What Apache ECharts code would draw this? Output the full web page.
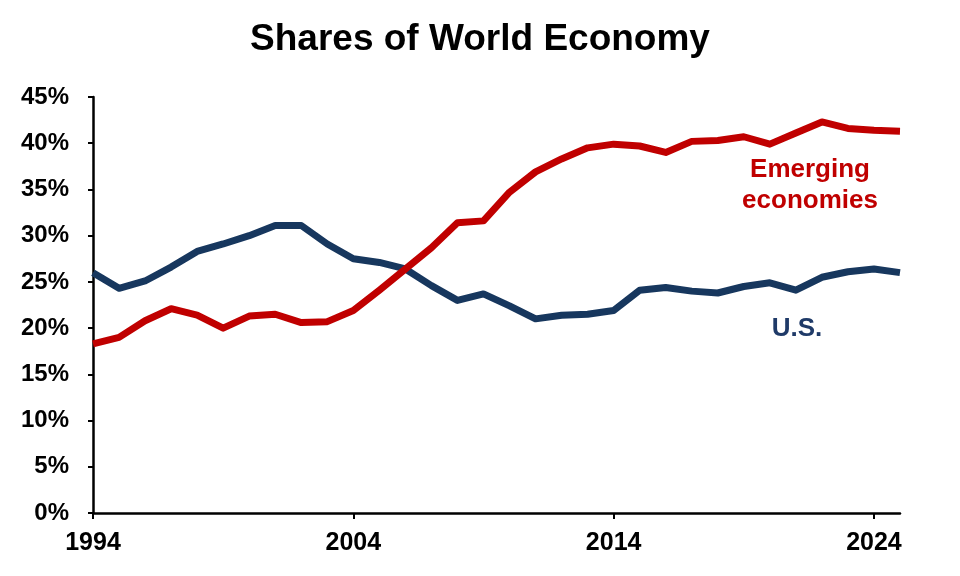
<!DOCTYPE html>
<html>
<head>
<meta charset="utf-8">
<script src="https://cdn.jsdelivr.net/npm/echarts@6/dist/echarts.min.js"></script>
<style>html,body{margin:0;padding:0;background:#fff}#c{width:960px;height:576px}</style>
</head>
<body>
<div id="c"></div>
<script>
const years = [];
for (let y = 1994; y <= 2025; y++) years.push(String(y));
const usShare = [26.0,24.3,25.1,26.6,28.3,29.1,30.0,31.1,31.1,29.1,27.5,27.1,26.4,24.6,23.0,23.7,22.4,21.0,21.4,21.5,21.9,24.1,24.4,24.0,23.8,24.5,24.9,24.1,25.5,26.1,26.4,26.0];
const emShare = [18.3,19.0,20.8,22.1,21.4,20.0,21.3,21.5,20.6,20.7,21.9,24.1,26.4,28.7,31.4,31.6,34.7,36.9,38.3,39.5,39.9,39.7,39.0,40.2,40.3,40.7,39.9,41.1,42.3,41.6,41.4,41.3];
const labeledYears = ['1994','2004','2014','2024'];

const FONT = "'Liberation Sans', Arial, sans-serif";
const RED = '#C00000';
const NAVY = '#17375E';

const chart = echarts.init(document.getElementById('c'));
chart.setOption({
  animation: false,
  backgroundColor: '#fff',
  title: {
    text: 'Shares of World Economy',
    left: 'center',
    top: 16,
    textStyle: { fontFamily: FONT, fontWeight: 'bold', fontSize: 37, color: '#000' }
  },
  grid: { left: 93, right: 60, top: 97, bottom: 63, containLabel: false },
  xAxis: {
    type: 'category',
    data: years,
    boundaryGap: false,
    axisLine: { lineStyle: { color: '#000', width: 2.5 } },
    axisTick: {
      show: true, length: 6, lineStyle: { color: '#000', width: 2 },
      interval: (i, v) => labeledYears.includes(v)
    },
    axisLabel: {
      interval: (i, v) => labeledYears.includes(v),
      margin: 18,
      fontFamily: FONT, fontWeight: 'bold', fontSize: 25, color: '#000'
    },
    splitLine: { show: false }
  },
  yAxis: {
    type: 'value',
    min: 0, max: 45, interval: 5,
    axisLine: { show: true, lineStyle: { color: '#000', width: 2.5 } },
    axisTick: { show: true, length: 5, lineStyle: { color: '#000', width: 2 } },
    axisLabel: {
      formatter: '{value}%',
      margin: 24,
      fontFamily: FONT, fontWeight: 'bold', fontSize: 24, color: '#000'
    },
    splitLine: { show: false }
  },
  series: [
    {
      name: 'U.S.', type: 'line', data: usShare, symbol: 'none',
      lineStyle: { color: NAVY, width: 7, join: 'round' }, z: 2
    },
    {
      name: 'Emerging economies', type: 'line', data: emShare, symbol: 'none',
      lineStyle: { color: RED, width: 7, join: 'round' }, z: 3
    }
  ],
  graphic: [
    {
      type: 'text', x: 810, y: 185,
      style: {
        text: 'Emerging\neconomies', textAlign: 'center', textVerticalAlign: 'middle',
        fontFamily: FONT, fontWeight: 'bold', fontSize: 26, lineHeight: 31, fill: RED
      }
    },
    {
      type: 'text', x: 797, y: 329,
      style: {
        text: 'U.S.', textAlign: 'center', textVerticalAlign: 'middle',
        fontFamily: FONT, fontWeight: 'bold', fontSize: 26, fill: '#1F3A68'
      }
    }
  ]
});
</script>
</body>
</html>
